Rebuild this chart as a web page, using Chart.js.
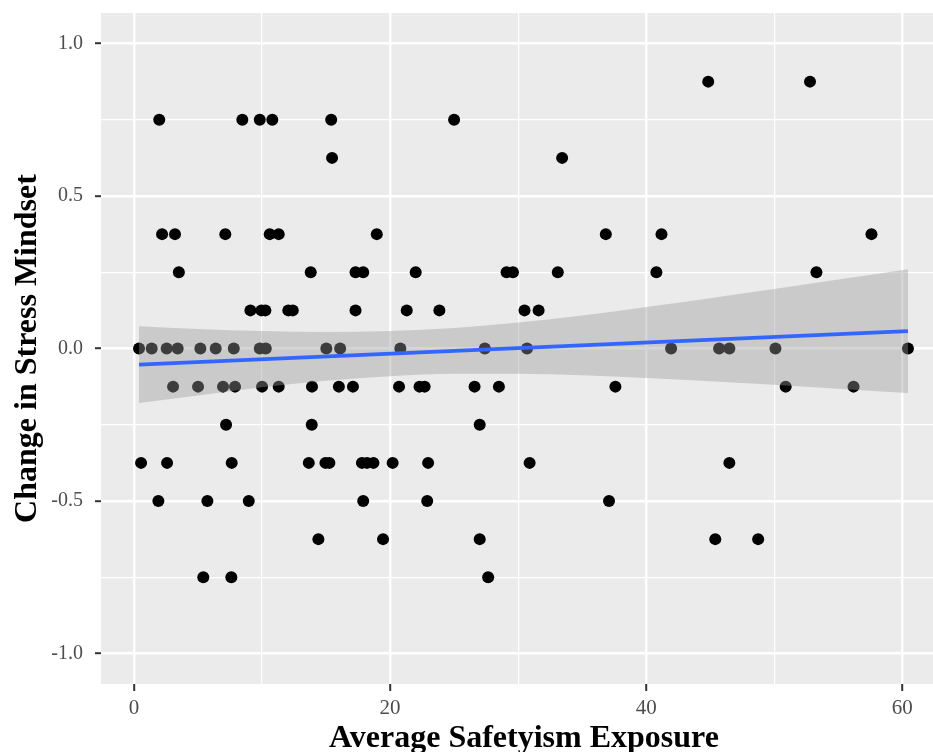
<!DOCTYPE html>
<html>
<head>
<meta charset="utf-8">
<script src="https://cdn.jsdelivr.net/npm/chart.js@4.4.1/dist/chart.umd.min.js"></script>
<style>
  html, body { margin: 0; padding: 0; background: #fff; overflow: hidden; }
  /* the original panel runs a little past the right edge of the picture */
  #wrap { width: 953px; height: 752px; }
</style>
</head>
<body>
<div id="wrap"><canvas id="stressChart"></canvas></div>
<script>
// each participant: average safetyism exposure (x) and change in stress mindset (y)
const exposure = [
    44.85, 52.8,
    1.97, 8.46, 9.82, 10.8, 15.4, 25.0,
    15.47, 33.44,
    2.19, 3.2, 7.13, 10.6, 11.3, 18.96, 36.85, 41.2, 57.6,
    3.5, 13.8, 17.3, 17.9, 22.0, 29.1, 29.6, 33.1, 40.8, 53.3,
    9.09, 9.95, 10.26, 12.05, 12.4, 17.3, 21.3, 23.85, 30.5, 31.6,
    0.39, 1.38, 2.55, 3.41, 5.18, 6.38, 7.79, 9.82, 10.29, 15.02, 16.1, 20.8, 27.4, 30.7, 41.95, 45.7, 46.5, 50.1, 60.45,
    3.05, 5.0, 6.95, 7.89, 10.0, 11.3, 13.9, 16.0, 17.1, 20.7, 22.3, 22.7, 26.6, 28.5, 37.6, 50.9, 56.2,
    7.19, 13.88, 27.0,
    0.55, 2.58, 7.63, 13.65, 14.95, 15.26, 17.8, 18.2, 18.7, 20.2, 22.97, 30.9, 46.5,
    1.9, 5.73, 8.96, 17.9, 22.9, 37.1,
    14.4, 19.45, 27.0, 45.4, 48.75,
    5.41, 7.6, 27.66
];
const stressChange = [
    0.875, 0.875,
    0.75, 0.75, 0.75, 0.75, 0.75, 0.75,
    0.625, 0.625,
    0.375, 0.375, 0.375, 0.375, 0.375, 0.375, 0.375, 0.375, 0.375,
    0.25, 0.25, 0.25, 0.25, 0.25, 0.25, 0.25, 0.25, 0.25, 0.25,
    0.125, 0.125, 0.125, 0.125, 0.125, 0.125, 0.125, 0.125, 0.125, 0.125,
    0, 0, 0, 0, 0, 0, 0, 0, 0, 0, 0, 0, 0, 0, 0, 0, 0, 0, 0,
    -0.125, -0.125, -0.125, -0.125, -0.125, -0.125, -0.125, -0.125, -0.125, -0.125, -0.125, -0.125, -0.125, -0.125, -0.125, -0.125, -0.125,
    -0.25, -0.25, -0.25,
    -0.375, -0.375, -0.375, -0.375, -0.375, -0.375, -0.375, -0.375, -0.375, -0.375, -0.375, -0.375, -0.375,
    -0.5, -0.5, -0.5, -0.5, -0.5, -0.5,
    -0.625, -0.625, -0.625, -0.625, -0.625,
    -0.75, -0.75, -0.75
];

// linear fit and its 95% band
const fitX = [0.39, 60.45];
const fitY = [-0.053, 0.057];
const bandX = [0.39, 5, 10, 15, 20, 25, 30, 35, 40, 45, 50, 55, 60.45];
const bandUpper = [0.073, 0.064, 0.057, 0.054, 0.057, 0.067, 0.085, 0.108, 0.136, 0.165, 0.195, 0.226, 0.260];
const bandLower = [-0.179, -0.154, -0.127, -0.106, -0.091, -0.083, -0.083, -0.088, -0.097, -0.107, -0.119, -0.132, -0.146];

// axis ticks (major ones get labels, the rest are minor grid lines)
const xGrid = [0, 10, 20, 30, 40, 50, 60];
const xLabels = [0, 20, 40, 60];
const yGrid = [-1, -0.75, -0.5, -0.25, 0, 0.25, 0.5, 0.75, 1];
const yLabels = [-1, -0.5, 0, 0.5, 1];

const serif = '"Liberation Serif", "Times New Roman", serif';

const isXMajor = v => xLabels.includes(v);
const isYMajor = v => yLabels.includes(v);

const panelBackground = {
    id: 'panelBackground',
    beforeDraw(chart) {
        const {ctx, chartArea} = chart;
        ctx.save();
        ctx.fillStyle = '#EBEBEB';
        ctx.fillRect(chartArea.left, chartArea.top, chartArea.right - chartArea.left, chartArea.bottom - chartArea.top);
        ctx.restore();
    }
};

const toXY = (xs, ys) => xs.map((x, i) => ({x: x, y: ys[i]}));

new Chart(document.getElementById('stressChart'), {
    type: 'scatter',
    data: {
        datasets: [
            {
                type: 'line',
                data: toXY(fitX, fitY),
                borderColor: '#3366FF',
                borderWidth: 3.6,
                pointRadius: 0,
                fill: false,
                order: 1
            },
            {
                type: 'line',
                data: toXY(bandX, bandUpper),
                borderWidth: 0,
                borderColor: 'rgba(0,0,0,0)',
                pointRadius: 0,
                cubicInterpolationMode: 'monotone',
                fill: '+1',
                backgroundColor: 'rgba(153,153,153,0.4)',
                order: 2
            },
            {
                type: 'line',
                data: toXY(bandX, bandLower),
                borderWidth: 0,
                borderColor: 'rgba(0,0,0,0)',
                pointRadius: 0,
                cubicInterpolationMode: 'monotone',
                fill: false,
                order: 2
            },
            {
                data: toXY(exposure, stressChange),
                backgroundColor: '#000000',
                borderWidth: 0,
                pointRadius: 6,
                order: 3
            }
        ]
    },
    options: {
        responsive: true,
        maintainAspectRatio: false,
        animation: false,
        layout: { padding: { top: 13, right: 0, bottom: 0, left: 0 } },
        plugins: {
            legend: { display: false },
            tooltip: { enabled: false }
        },
        scales: {
            x: {
                type: 'linear',
                min: -2.58,
                max: 63.5,
                afterBuildTicks: s => { s.ticks = xGrid.map(v => ({value: v})); },
                afterFit: s => {
                    s.height = 68;
                    s.paddingLeft = 0;
                    s.paddingRight = 0;
                },
                border: { display: false },
                grid: {
                    color: '#FFFFFF',
                    lineWidth: c => (c.tick && isXMajor(c.tick.value)) ? 2.4 : 1.2,
                    tickColor: c => (c.tick && isXMajor(c.tick.value)) ? '#333333' : 'rgba(0,0,0,0)',
                    tickLength: 7,
                    tickWidth: 2
                },
                ticks: {
                    autoSkip: false,
                    maxRotation: 0,
                    padding: 5,
                    color: '#4D4D4D',
                    font: { family: serif, size: 21 },
                    callback: v => isXMajor(v) ? String(v) : ''
                },
                title: {
                    display: true,
                    text: 'Average Safetyism Exposure',
                    color: '#000000',
                    font: { family: serif, size: 32, weight: 'bold' },
                    padding: { top: 0, bottom: -6 }
                }
            },
            y: {
                min: -1.1,
                max: 1.1,
                afterBuildTicks: s => { s.ticks = yGrid.map(v => ({value: v})); },
                afterFit: s => {
                    s.width = 101;
                    s.paddingTop = 0;
                    s.paddingBottom = 0;
                },
                border: { display: false },
                grid: {
                    color: '#FFFFFF',
                    lineWidth: c => (c.tick && isYMajor(c.tick.value)) ? 2.4 : 1.2,
                    tickColor: c => (c.tick && isYMajor(c.tick.value)) ? '#333333' : 'rgba(0,0,0,0)',
                    tickLength: 6,
                    tickWidth: 2
                },
                ticks: {
                    autoSkip: false,
                    padding: 12,
                    color: '#4D4D4D',
                    font: { family: serif, size: 20 },
                    callback: v => isYMajor(v) ? v.toFixed(1) : ''
                },
                title: {
                    display: true,
                    text: 'Change in Stress Mindset',
                    color: '#000000',
                    font: { family: serif, size: 32, weight: 'bold' },
                    padding: { top: 9, bottom: 0 }
                }
            }
        }
    },
    plugins: [panelBackground]
});
</script>
</body>
</html>
